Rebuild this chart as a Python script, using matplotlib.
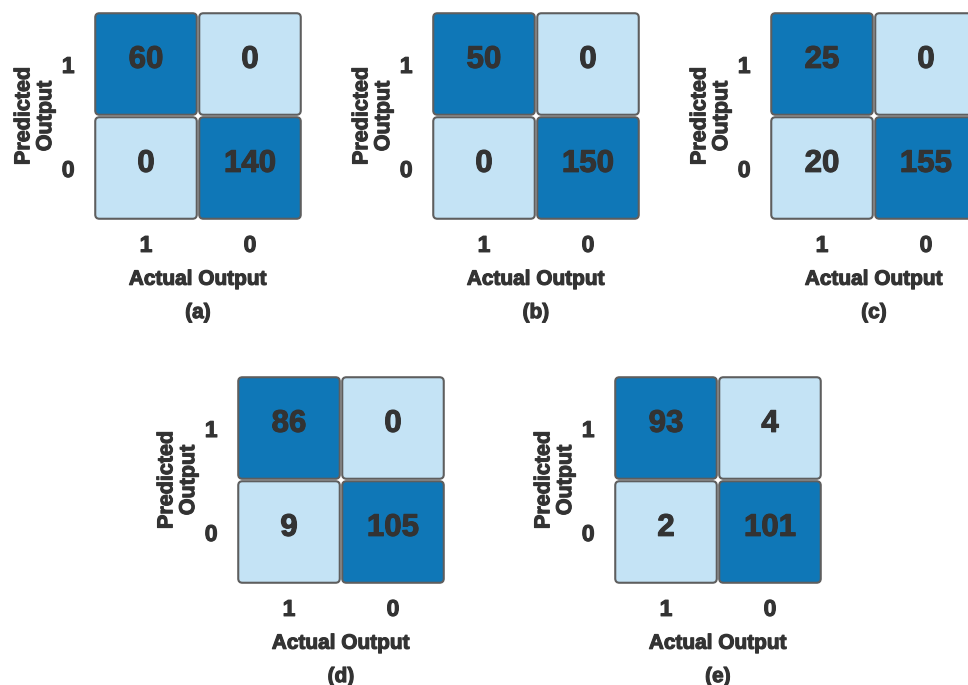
import numpy as np
import matplotlib.pyplot as plt
import matplotlib.patheffects as pe
from matplotlib.patches import FancyBboxPatch

plt.rcParams['font.family'] = ['Liberation Sans', 'DejaVu Sans']

# confusion matrices, rows = predicted (1, 0), cols = actual (1, 0)
cm_a = [[60, 0], [0, 140]]
cm_b = [[50, 0], [0, 150]]
cm_c = [[25, 0], [20, 155]]
cm_d = [[86, 0], [9, 105]]
cm_e = [[93, 4], [2, 101]]

panel_labels = ['(a)', '(b)', '(c)', '(d)', '(e)']
class_labels = ['1', '0']

DARK = '#0f77b7'
LIGHT = '#c4e3f5'
EDGE = '#5e5e5e'
TXT = '#333333'

W, H = 968, 685
# left, top of each grid in pixels; each cell ~104 px
origins = [(94, 12), (432, 12), (770, 12), (237, 376), (614, 376)]
CELL = 104

# slightly thicker strokes for the heavy labels
heavy = [pe.withStroke(linewidth=0.8, foreground=TXT)]


def draw_cm(fig, cm, label, left, top):
    cm = np.array(cm)
    ax = fig.add_axes([left / W, (H - top - 2 * CELL) / H, 2 * CELL / W, 2 * CELL / H])
    ax.set_xlim(-0.5, 1.5)
    ax.set_ylim(1.5, -0.5)
    for i in range(2):
        for j in range(2):
            col = DARK if i == j else LIGHT
            ax.add_patch(FancyBboxPatch((j - 0.5 + 0.012, i - 0.5 + 0.012), 0.976, 0.976,
                                        boxstyle='round,pad=0,rounding_size=0.04',
                                        facecolor=col, edgecolor=EDGE, linewidth=1.5,
                                        clip_on=False))
            ax.text(j, i - 0.04, str(cm[i, j]), ha='center', va='center',
                    fontsize=22.5, fontweight='bold', color=TXT, path_effects=heavy)
    for s in ax.spines.values():
        s.set_visible(False)
    ax.set_xticks([0, 1])
    ax.set_yticks([0, 1])
    ax.set_xticklabels(class_labels, fontsize=16.5, fontweight='bold', color=TXT,
                       path_effects=heavy)
    ax.set_yticklabels(class_labels, fontsize=16.5, fontweight='bold', color=TXT,
                       path_effects=heavy)
    ax.tick_params(axis='x', length=0, pad=10)
    ax.tick_params(axis='y', length=0, pad=14)
    ax.text(0.5, -0.285, 'Actual Output', transform=ax.transAxes, ha='center', va='center',
            fontsize=15, fontweight='bold', color=TXT, path_effects=heavy)
    ax.text(0.5, -0.445, label, transform=ax.transAxes, ha='center', va='center',
            fontsize=15, fontweight='bold', color=TXT, path_effects=heavy)
    ax.text(-0.285, 0.5, 'Predicted\nOutput', transform=ax.transAxes, ha='center',
            va='center', rotation=90, fontsize=15.5, fontweight='bold', color=TXT,
            linespacing=1.05, path_effects=heavy)


fig = plt.figure(figsize=(W / 100, H / 100), dpi=100)
for cm, lab, (l, t) in zip([cm_a, cm_b, cm_c, cm_d, cm_e], panel_labels, origins):
    draw_cm(fig, cm, lab, l, t)

fig.savefig('out.png', dpi=100)
